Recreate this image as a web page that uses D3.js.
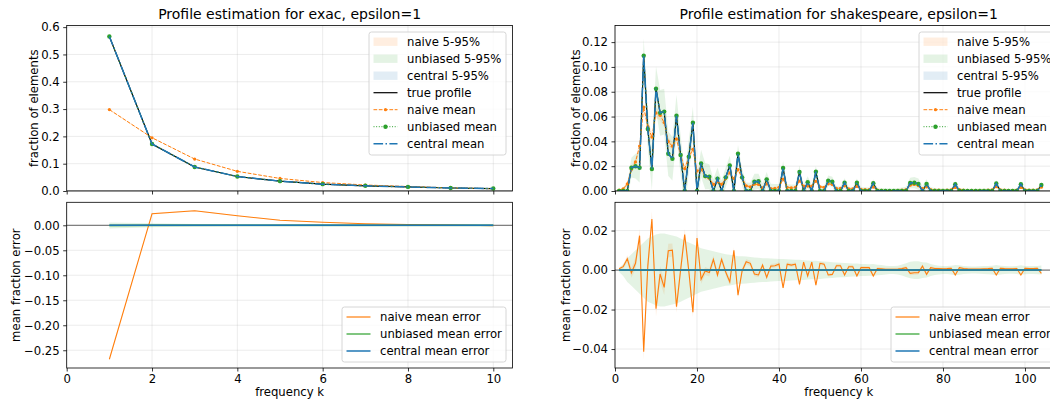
<!DOCTYPE html>
<html>
<head>
<meta charset="utf-8">
<script src="https://cdn.jsdelivr.net/npm/d3@7"></script>
<style>
  body { margin: 0; background: #fff; }
  svg { display: block; }
</style>
</head>
<body>
<svg id="chart" width="1050" height="404"></svg>
<script>
'use strict';

/* ── data: exac (k = 1..10) ─────────────────── */
const exK           = [1, 2, 3, 4, 5, 6, 7, 8, 9, 10];
const exTrue        = [0.566, 0.172, 0.088, 0.053, 0.036, 0.025, 0.019, 0.015, 0.011, 0.009];
const exNaive       = [0.298, 0.195, 0.117, 0.072, 0.046, 0.031, 0.022, 0.0165, 0.0115, 0.0082];
const exUnbiased    = [0.5655, 0.172, 0.088, 0.053, 0.036, 0.025, 0.019, 0.015, 0.011, 0.009];
const exCentral     = [0.566, 0.172, 0.088, 0.053, 0.036, 0.025, 0.019, 0.015, 0.011, 0.009];
const exUnbSpread   = [0.006, 0.004, 0.0025, 0.0015, 0.001, 0.0008, 0.0006, 0.0005, 0.0004, 0.0003];
const exNaiveSpread = [0.002, 0.0015, 0.001, 0.0008, 0.0006, 0.0005, 0.0004, 0.0003, 0.0003, 0.0002];

/* ── data: shakespeare (k = 1..104) ─────────── */
const shK = d3.range(1, 105);
const shTrue = [
  0, 0, 0, 0.0188, 0.020, 0.0188, 0.109, 0.050, 0.0177, 0.0825,
  0.063, 0.064, 0.030, 0.026, 0.0606, 0.029, 0, 0.0276, 0.055, 0,
  0.0222, 0.012, 0.0115, 0, 0.010, 0, 0.011, 0.0206, 0, 0.030,
  0.011, 0, 0, 0.0075, 0.0078, 0, 0.0094, 0, 0, 0,
  0.0185, 0, 0, 0, 0.0153, 0, 0.007, 0, 0.0155, 0,
  0, 0.0083, 0.0075, 0, 0, 0.0067, 0, 0, 0.0067, 0,
  0, 0, 0.0062, 0, 0, 0, 0, 0, 0, 0,
  0, 0.0064, 0.0067, 0.0056, 0, 0.0056, 0, 0, 0, 0,
  0, 0, 0.0054, 0, 0, 0, 0, 0, 0, 0,
  0, 0, 0.006, 0, 0, 0, 0, 0, 0.0054, 0,
  0, 0, 0, 0.0048
];
const shNaive = [
  0.0007, 0.0017, 0.0057, 0.0174, 0.0234, 0.0362, 0.0676, 0.052, 0.0435, 0.0629,
  0.061, 0.0552, 0.0398, 0.0361, 0.042, 0.029, 0.018, 0.0271, 0.0336, 0.0162,
  0.0175, 0.0115, 0.0102, 0.0054, 0.0075, 0.0054, 0.010, 0.0146, 0.010, 0.0173,
  0.0105, 0.0042, 0.0034, 0.0055, 0.0053, 0.0025, 0.0057, 0.002, 0.0022, 0.003,
  0.0095, 0.003, 0.0025, 0.003, 0.008, 0.004, 0.004, 0.004, 0.0078, 0.0034,
  0.003, 0.0058, 0.0053, 0.0022, 0.0022, 0.0042, 0.0017, 0.0017, 0.0037, 0.0013,
  0.0012, 0.0012, 0.0032, 0.0008, 0.0006, 0.0004, 0.0004, 0.0004, 0.0005, 0.0007,
  0.0012, 0.0047, 0.0053, 0.0043, 0.002, 0.0034, 0.0012, 0.0008, 0.0007, 0.0006,
  0.0007, 0.0009, 0.0029, 0.0012, 0.0008, 0.0006, 0.0005, 0.0005, 0.0005, 0.0006,
  0.0007, 0.0009, 0.0035, 0.0009, 0.0007, 0.0006, 0.0006, 0.0008, 0.0029, 0.0009,
  0.0007, 0.0007, 0.0009, 0.0031
];
// unbiased / central means sit on the true profile at this resolution
const shUnbiased = shTrue.slice();
const shCentral  = shTrue.slice();
// half-width of the 5-95% bands
const shUnbSpread = [
  0.001, 0.003, 0.006, 0.008, 0.010, 0.012, 0.014, 0.016, 0.017, 0.018,
  0.0185, 0.0185, 0.018, 0.0175, 0.017, 0.016, 0.015, 0.014, 0.013, 0.012,
  0.011, 0.0105, 0.010, 0.0095, 0.009, 0.0085, 0.008, 0.0078, 0.0075, 0.007,
  0.007, 0.0068, 0.0066, 0.0064, 0.0062, 0.006, 0.006, 0.0058, 0.0057, 0.0056,
  0.0056, 0.0055, 0.0053, 0.0052, 0.0052, 0.005, 0.0048, 0.0047, 0.0047, 0.0045,
  0.0043, 0.0042, 0.004, 0.0038, 0.0037, 0.0036, 0.0034, 0.0033, 0.0033, 0.003,
  0.003, 0.0029, 0.003, 0.0027, 0.0025, 0.0022, 0.002, 0.002, 0.0022, 0.0028,
  0.0035, 0.0042, 0.0045, 0.0045, 0.004, 0.0038, 0.003, 0.0025, 0.0022, 0.002,
  0.002, 0.0022, 0.0026, 0.0024, 0.002, 0.0019, 0.0018, 0.0018, 0.0019, 0.002,
  0.0021, 0.0022, 0.0026, 0.0022, 0.002, 0.0019, 0.0019, 0.002, 0.0024, 0.0021,
  0.002, 0.002, 0.0021, 0.0023
];
const shNaiveSpread = [
  0.0005, 0.001, 0.0018, 0.0025, 0.003, 0.0035, 0.004, 0.004, 0.004, 0.004,
  0.004, 0.0038, 0.0035, 0.0033, 0.003, 0.003, 0.0028, 0.0026, 0.0025, 0.0024,
  0.0022, 0.002, 0.002, 0.0019, 0.0018, 0.0017, 0.0016, 0.0016, 0.0015, 0.0015,
  0.0014, 0.0013, 0.0013, 0.0012, 0.0012, 0.0012, 0.0011, 0.0011, 0.0011, 0.001,
  0.001, 0.001, 0.001, 0.001, 0.001, 0.0009, 0.0009, 0.0009, 0.0009, 0.0009,
  0.0008, 0.0008, 0.0008, 0.0008, 0.0008, 0.0008, 0.0008, 0.0008, 0.0008, 0.0008,
  0.0007, 0.0007, 0.0007, 0.0007, 0.0007, 0.0007, 0.0007, 0.0007, 0.0007, 0.0007,
  0.0008, 0.001, 0.001, 0.001, 0.0009, 0.0008, 0.0007, 0.0006, 0.0006, 0.0006,
  0.0006, 0.0006, 0.0006, 0.0006, 0.0006, 0.0006, 0.0006, 0.0006, 0.0006, 0.0006,
  0.0006, 0.0006, 0.0006, 0.0006, 0.0006, 0.0006, 0.0006, 0.0006, 0.0006, 0.0006,
  0.0006, 0.0006, 0.0006, 0.0006
];

/* ── ticks ──────────────────────────────────── */
const exXTicks    = [0, 2, 4, 6, 8, 10];
const shXTicks    = [0, 20, 40, 60, 80, 100];
const exTopTicks  = [0, 0.1, 0.2, 0.3, 0.4, 0.5, 0.6];
const exErrTicks  = [0, -0.05, -0.10, -0.15, -0.20, -0.25];
const shTopTicks  = [0, 0.02, 0.04, 0.06, 0.08, 0.10, 0.12];
const shErrTicks  = [-0.04, -0.02, 0, 0.02];

/* ── palette ────────────────────────────────── */
const C = { naive: '#ff7f0e', unb: '#2ca02c', cen: '#1f77b4', true: '#000000' };
const FONT = "'DejaVu Sans', sans-serif";
const FS = 11.67;

const svg = d3.select('#chart');
const defs = svg.append('defs');

const diff = (m, t) => m.map((v, i) => v - t[i]);
const pts  = (k, v) => k.map((kk, i) => ({ k: kk, v: v[i] }));
const band = (k, c, s) => k.map((kk, i) => ({ k: kk, lo: c[i] - s[i], hi: c[i] + s[i] }));

function drawPanel(p) {
  const x = d3.scaleLinear().domain(p.xDom).range([p.left, p.right]);
  const y = d3.scaleLinear().domain(p.yDom).range([p.bottom, p.top]);
  const g = svg.append('g');

  defs.append('clipPath').attr('id', 'clip-' + p.id).append('rect')
    .attr('x', p.left).attr('y', p.top)
    .attr('width', p.right - p.left).attr('height', p.bottom - p.top);

  // grid
  g.append('g').selectAll('line').data(p.xTicks).join('line')
    .attr('x1', d => x(d)).attr('x2', d => x(d)).attr('y1', p.top).attr('y2', p.bottom)
    .attr('stroke', '#b0b0b0').attr('stroke-opacity', 0.3).attr('stroke-width', 0.8);
  g.append('g').selectAll('line').data(p.yTicks).join('line')
    .attr('y1', d => y(d)).attr('y2', d => y(d)).attr('x1', p.left).attr('x2', p.right)
    .attr('stroke', '#b0b0b0').attr('stroke-opacity', 0.3).attr('stroke-width', 0.8);

  const plot = g.append('g').attr('clip-path', `url(#clip-${p.id})`);

  // zero line
  plot.append('line')
    .attr('x1', p.left).attr('x2', p.right).attr('y1', y(0)).attr('y2', y(0))
    .attr('stroke', '#808080').attr('stroke-width', 1.2);

  // bands
  const area = d3.area().x(d => x(d.k)).y0(d => y(d.lo)).y1(d => y(d.hi));
  p.bands.forEach(b => {
    plot.append('path').datum(b.data)
      .attr('d', area).attr('fill', b.color).attr('fill-opacity', b.opacity || 0.13);
  });

  // lines
  const line = d3.line().x(d => x(d.k)).y(d => y(d.v));
  p.series.forEach(s => {
    plot.append('path').datum(s.data)
      .attr('d', line).attr('fill', 'none')
      .attr('stroke', s.color).attr('stroke-width', s.width)
      .attr('stroke-opacity', s.opacity || 1)
      .attr('stroke-dasharray', s.dash || null);
    if (s.marker) {
      plot.append('g').selectAll('circle').data(s.data).join('circle')
        .attr('cx', d => x(d.k)).attr('cy', d => y(d.v))
        .attr('r', s.marker).attr('fill', s.color);
    }
  });

  // axes
  const ya = g.append('g').attr('transform', `translate(${p.left},0)`)
    .call(d3.axisLeft(y).tickValues(p.yTicks).tickFormat(d3.format(p.yFmt)).tickSize(3.5).tickPadding(3.5));
  const xa = g.append('g').attr('transform', `translate(0,${p.bottom})`)
    .call(d3.axisBottom(x).tickValues(p.xTicks).tickFormat(p.xLabels ? d3.format('d') : '').tickSize(3.5).tickPadding(3.5));
  [ya, xa].forEach(a => {
    a.select('.domain').remove();
    a.attr('font-size', FS).attr('font-family', FONT);
    a.selectAll('line').attr('stroke', '#000').attr('stroke-width', 0.8);
    a.selectAll('text').attr('fill', '#000');
  });

  // spines
  g.append('rect')
    .attr('x', p.left).attr('y', p.top)
    .attr('width', p.right - p.left).attr('height', p.bottom - p.top)
    .attr('fill', 'none').attr('stroke', '#000').attr('stroke-width', 0.8);

  // labels
  if (p.title) {
    g.append('text').attr('x', (p.left + p.right) / 2).attr('y', p.top - 7)
      .attr('text-anchor', 'middle').attr('font-family', FONT).attr('font-size', 14)
      .text(p.title);
  }
  g.append('text')
    .attr('transform', `translate(${p.ylabelX},${(p.top + p.bottom) / 2}) rotate(-90)`)
    .attr('text-anchor', 'middle').attr('font-family', FONT).attr('font-size', FS)
    .text(p.ylabel);
  if (p.xlabel) {
    g.append('text').attr('x', (p.left + p.right) / 2).attr('y', p.bottom + 27.5)
      .attr('text-anchor', 'middle').attr('font-family', FONT).attr('font-size', FS)
      .text(p.xlabel);
  }

  if (p.legend) drawLegend(p.legend);
}

function drawLegend(L) {
  const g = svg.append('g');
  g.append('rect')
    .attr('x', L.x).attr('y', L.y).attr('width', L.w).attr('height', L.h)
    .attr('rx', 2.5).attr('fill', '#fff').attr('fill-opacity', 0.8)
    .attr('stroke', '#cccccc').attr('stroke-width', 0.8);
  L.items.forEach((it, i) => {
    const cy = L.y + L.first + i * 17;
    const hx = L.x + 4.5;
    if (it.type === 'band') {
      g.append('rect').attr('x', hx).attr('y', cy - 4.2).attr('width', 24).attr('height', 8.4)
        .attr('fill', it.color).attr('fill-opacity', 0.13);
    } else {
      g.append('line').attr('x1', hx).attr('x2', hx + 24).attr('y1', cy).attr('y2', cy)
        .attr('stroke', it.color).attr('stroke-width', it.width)
        .attr('stroke-opacity', it.opacity || 1)
        .attr('stroke-dasharray', it.dash || null);
      if (it.marker) {
        g.append('circle').attr('cx', hx + 12).attr('cy', cy).attr('r', it.marker).attr('fill', it.color);
      }
    }
    g.append('text').attr('x', L.x + 38).attr('y', cy + 4.2)
      .attr('font-family', FONT).attr('font-size', FS).text(it.label);
  });
}

/* ── styles shared by both columns ──────────── */
const DASH_NAIVE = '3.7,1.6';
const DASH_UNB   = '1,1.65';
const DASH_CEN   = '9.6,2.4,1.5,2.4';

const topLegendItems = [
  { type: 'band', color: C.naive, label: 'naive 5-95%' },
  { type: 'band', color: C.unb,   label: 'unbiased 5-95%' },
  { type: 'band', color: C.cen,   label: 'central 5-95%' },
  { type: 'line', color: C.true,  width: 1.2, label: 'true profile' },
  { type: 'line', color: C.naive, width: 1, dash: DASH_NAIVE, marker: 1.6, label: 'naive mean' },
  { type: 'line', color: C.unb,   width: 1, dash: DASH_UNB, marker: 2.2, label: 'unbiased mean' },
  { type: 'line', color: C.cen,   width: 1.5, dash: DASH_CEN, label: 'central mean' },
];
const errLegendItems = [
  { type: 'line', color: C.naive, width: 1.2, label: 'naive mean error' },
  { type: 'line', color: C.unb,   width: 2, opacity: 0.6, label: 'unbiased mean error' },
  { type: 'line', color: C.cen,   width: 1.5, label: 'central mean error' },
];

function topSeries(k, tr, nv, ub, cn) {
  return [
    { data: pts(k, tr), color: C.true, width: 1.2 },
    { data: pts(k, nv), color: C.naive, width: 1, dash: DASH_NAIVE, marker: 1.6 },
    { data: pts(k, ub), color: C.unb, width: 1, dash: DASH_UNB, marker: 2.2 },
    { data: pts(k, cn), color: C.cen, width: 1.5, dash: DASH_CEN },
  ];
}
function errSeries(k, tr, nv, ub, cn) {
  return [
    { data: pts(k, diff(nv, tr)), color: C.naive, width: 1.1 },
    { data: pts(k, diff(ub, tr)), color: C.unb, width: 2, opacity: 0.6 },
    { data: pts(k, diff(cn, tr)), color: C.cen, width: 1.5 },
  ];
}

/* ── exac ───────────────────────────────────── */
const EX = { left: 66.7, right: 512.5, xDom: [0, 10.45] };
drawPanel({
  id: 'ex-top', ...EX, top: 25.5, bottom: 191, yDom: [0, 0.606],
  xTicks: exXTicks, yTicks: exTopTicks, yFmt: '.1f', xLabels: false,
  title: 'Profile estimation for exac, epsilon=1', ylabel: 'fraction of elements', ylabelX: 38,
  bands: [
    { data: band(exK, exNaive, exNaiveSpread), color: C.naive },
    { data: band(exK, exUnbiased, exUnbSpread), color: C.unb },
  ],
  series: topSeries(exK, exTrue, exNaive, exUnbiased, exCentral),
  legend: { x: 369, y: 32, w: 137, h: 123, first: 9.7, items: topLegendItems },
});
drawPanel({
  id: 'ex-err', ...EX, top: 202.3, bottom: 368, yDom: [-0.2855, 0.046],
  xTicks: exXTicks, yTicks: exErrTicks, yFmt: '.2f', xLabels: true,
  ylabel: 'mean fraction error', ylabelX: 20, xlabel: 'frequency k',
  bands: [
    { data: band(exK, diff(exNaive, exTrue), exNaiveSpread), color: C.naive },
    { data: band(exK, diff(exUnbiased, exTrue), exUnbSpread), color: C.unb },
  ],
  series: errSeries(exK, exTrue, exNaive, exUnbiased, exCentral),
  legend: { x: 342, y: 307, w: 164, h: 55, first: 10, items: errLegendItems },
});

/* ── shakespeare ────────────────────────────── */
const SH = { left: 615, right: 1062.5, xDom: [0, 109.15] };
drawPanel({
  id: 'sh-top', ...SH, top: 25.5, bottom: 191, yDom: [0, 0.1334],
  xTicks: shXTicks, yTicks: shTopTicks, yFmt: '.2f', xLabels: false,
  title: 'Profile estimation for shakespeare, epsilon=1', ylabel: 'fraction of elements', ylabelX: 580,
  bands: [
    { data: band(shK, shNaive, shNaiveSpread), color: C.naive },
    { data: band(shK, shUnbiased, shUnbSpread), color: C.unb },
  ],
  series: topSeries(shK, shTrue, shNaive, shUnbiased, shCentral),
  legend: { x: 919, y: 32, w: 137, h: 123, first: 9.7, items: topLegendItems },
});
drawPanel({
  id: 'sh-err', ...SH, top: 202.3, bottom: 368, yDom: [-0.0496, 0.0343],
  xTicks: shXTicks, yTicks: shErrTicks, yFmt: '.2f', xLabels: true,
  ylabel: 'mean fraction error', ylabelX: 570, xlabel: 'frequency k',
  bands: [
    { data: band(shK, diff(shNaive, shTrue), shNaiveSpread), color: C.naive },
    { data: band(shK, diff(shUnbiased, shTrue), shUnbSpread), color: C.unb },
  ],
  series: errSeries(shK, shTrue, shNaive, shUnbiased, shCentral),
  legend: { x: 891, y: 307, w: 164, h: 55, first: 10, items: errLegendItems },
});
</script>
</body>
</html>
